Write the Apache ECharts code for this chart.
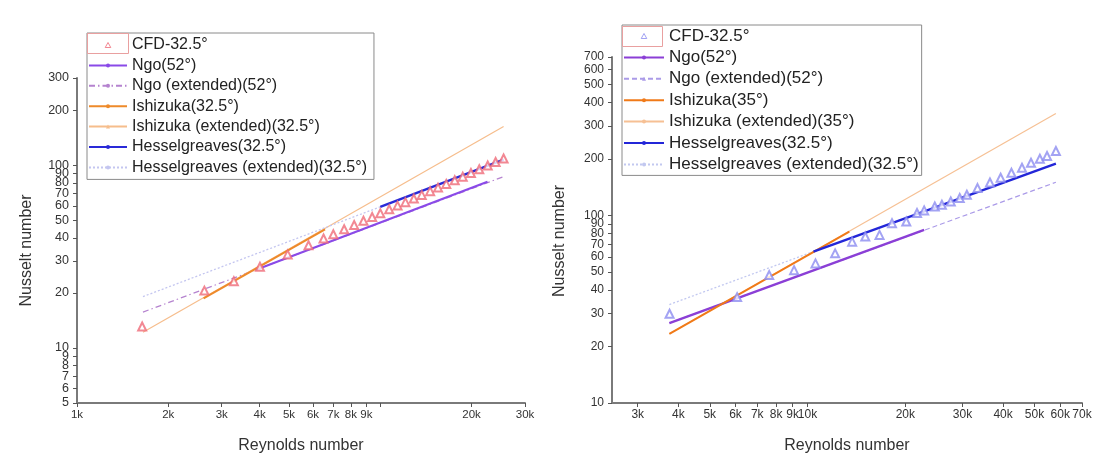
<!DOCTYPE html>
<html><head><meta charset="utf-8">
<script src="https://cdn.jsdelivr.net/npm/echarts@6/dist/echarts.min.js"></script>
<style>html,body{margin:0;padding:0;background:#fff}#c{width:1116px;height:463px}</style>
</head><body><div id="c"></div>
<script>
// ---------- tick values ----------
const leftXTicks  = [1000,2000,3000,4000,5000,6000,7000,8000,9000,10000,20000,30000];
const leftXLabels = [1000,2000,3000,4000,5000,6000,7000,8000,9000,20000,30000];
const leftYTicks  = [5,6,7,8,9,10,20,30,40,50,60,70,80,90,100,200,300];
const rightXTicks = [3000,4000,5000,6000,7000,8000,9000,10000,20000,30000,40000,50000,60000,70000];
const rightYTicks = [10,20,30,40,50,60,70,80,90,100,200,300,400,500,600,700];
const leftXRange  = [1000, 30000];
const leftYRange  = [5, 300];
const rightXRange = [2500, 70000];
const rightYRange = [10, 700];

// ---------- left panel data ----------
const leftCfdRe = [1640,2630,3290,4010,4950,5800,6500,7000,7600,8200,8800,9400,10000,10700,11400,12100,12900,13700,14600,15500,16500,17600,18700,19900,21200,22600,24000,25500];
const leftCfdNu = [13.1,20.6,23.2,27.8,32.5,36.5,39.7,41.9,44.6,47.1,49.7,52.1,54.6,57.4,60.1,62.8,65.8,68.8,72.1,75.4,79.0,82.8,86.6,90.7,95.0,99.6,104.1,108.9];
const leftNgoRe = [3875, 22570];      const leftNgoNu = [26.7, 81.1];
const leftNgoExtRe = [1650, 25500];   const leftNgoExtNu = [15.7, 86.6];
const leftIshRe = [2614, 6574];       const leftIshNu = [18.7, 44.5];
const leftIshExtRe = [1650, 25500];   const leftIshExtNu = [12.2, 163];
const leftHesRe = [10000, 25500];     const leftHesNu = [59.2, 107.4];
const leftHesExtRe = [1650, 10000];   const leftHesExtNu = [19.1, 59.2];

// ---------- right panel data ----------
const rightCfdRe = [3760,6070,7620,9090,10580,12160,13720,15060,16660,18200,20140,21730,22860,24650,25920,27610,29420,30940,33370,36450,39320,42440,45740,48760,51920,54630,58170];
const rightCfdNu = [29.9,36.7,48.1,51.1,55.5,62.8,72.5,77.2,78.8,91.0,92.9,103,106.4,111.7,114.1,118.9,124,129,140,150,158.8,168.9,179.7,191,200.8,207.4,220.6];
const rightNgoRe = [3755, 22860];     const rightNgoNu = [26.7, 83.8];
const rightNgoExtRe = [3755, 58170];  const rightNgoExtNu = [26.7, 150.3];
const rightIshRe = [3755, 13450];     const rightIshNu = [23.4, 82];
const rightIshExtRe = [3755, 58170];  const rightIshExtNu = [23.4, 350];
const rightHesRe = [10430, 58170];    const rightHesNu = [64.2, 188.8];
const rightHesExtRe = [3755, 10430];  const rightHesExtNu = [33.5, 64.2];

// ---------- helpers ----------
const L = Math.log10;
const pts = (xs, ys) => xs.map((x, i) => [L(x), L(ys[i])]);
const fmt = v => { const r = Math.round(Math.pow(10, v)); return r >= 1000 ? (r / 1000) + 'k' : String(r); };
const FONT = 'Liberation Sans, Arial, sans-serif';
const axisLineStyle = { lineStyle: { color: '#7a7a7a', width: 2 } };
const TRI = 'path://M5,0L10,9L0,9Z';

function xAxis(grid, range, ticks, labels, fs) {
  return {
    type: 'value', gridIndex: grid, min: L(range[0]), max: L(range[1]),
    name: 'Reynolds number', nameLocation: 'middle', nameGap: 35,
    nameTextStyle: { fontFamily: FONT, fontSize: 16, color: '#333' },
    axisLine: axisLineStyle, splitLine: { show: false },
    axisTick: { customValues: ticks.map(L), length: 4, lineStyle: { color: '#555', width: 1 } },
    axisLabel: { customValues: labels.map(L), formatter: fmt, margin: 6, fontFamily: FONT, fontSize: fs, color: '#333', hideOverlap: false }
  };
}
function yAxis(grid, range, ticks, fs, gap, pad) {
  return {
    type: 'value', gridIndex: grid, min: L(range[0]), max: L(range[1]),
    name: 'Nusselt number', nameLocation: 'middle', nameGap: gap, nameRotate: 90,
    nameTextStyle: { fontFamily: FONT, fontSize: 16, color: '#333', padding: [0, pad, 0, 0] },
    axisLine: axisLineStyle, splitLine: { show: false },
    axisTick: { customValues: ticks.map(L), length: 4, lineStyle: { color: '#555', width: 1 } },
    axisLabel: { customValues: ticks.map(L), formatter: fmt, margin: 8, fontFamily: FONT, fontSize: fs, color: '#333', hideOverlap: false }
  };
}
function line(name, gi, data, color, width, type, symbol, z) {
  return {
    name, type: 'line', xAxisIndex: gi, yAxisIndex: gi, data, showSymbol: false,
    symbol: symbol || 'none', symbolSize: 4, itemStyle: { color },
    lineStyle: { color, width, type: type || 'solid' }, z: z || 2, silent: true, animation: false
  };
}
function cfd(name, gi, data, color) {
  return {
    name, type: 'scatter', xAxisIndex: gi, yAxisIndex: gi, data, symbol: 'emptyTriangle', symbolSize: 8,
    itemStyle: { color, borderColor: color, borderWidth: 1.2 }, z: 5, silent: true, animation: false
  };
}

const legendBase = {
  orient: 'vertical', borderColor: '#8a8a8a', borderWidth: 1, backgroundColor: '#fff',
  itemHeight: 5, itemGap: 3.4, selectedMode: false, z: 10
};

const option = {
  animation: false,
  grid: [
    { left: 77, top: 78, width: 448, height: 325, outerBoundsMode: 'none' },
    { left: 612, top: 57, width: 470, height: 346, outerBoundsMode: 'none' }
  ],
  xAxis: [ xAxis(0, leftXRange, leftXTicks, leftXLabels, 11.5), xAxis(1, rightXRange, rightXTicks, rightXTicks, 12) ],
  yAxis: [ yAxis(0, leftYRange, leftYTicks, 12.5, 42, 20), yAxis(1, rightYRange, rightYTicks, 12, 44, 22) ],
  legend: [
    Object.assign({}, legendBase, {
      left: 87, top: 33, padding: [3.5, 7, 3.5, 1], itemWidth: 38,
      textStyle: { fontFamily: FONT, fontSize: 16, color: '#222', lineHeight: 17 },
      data: [
        { name: 'CFD-32.5°', icon: TRI, itemStyle: { color: '#fff', borderColor: '#ef6a78', borderWidth: 1 } },
        'Ngo(52°)', 'Ngo (extended)(52°)', 'Ishizuka(32.5°)', 'Ishizuka (extended)(32.5°)', 'Hesselgreaves(32.5°)', 'Hesselgreaves (extended)(32.5°)']
    }),
    Object.assign({}, legendBase, {
      left: 622, top: 25, padding: [2, 3, 2, 1], itemWidth: 40,
      formatter: n => n.replace(/^R:/, ''),
      textStyle: { fontFamily: FONT, fontSize: 17, color: '#222', lineHeight: 18 },
      data: [
        { name: 'R:CFD-32.5°', icon: TRI, itemStyle: { color: '#fff', borderColor: '#8c8cf0', borderWidth: 1 } },
        'R:Ngo(52°)', 'R:Ngo (extended)(52°)', 'R:Ishizuka(35°)', 'R:Ishizuka (extended)(35°)', 'R:Hesselgreaves(32.5°)', 'R:Hesselgreaves (extended)(32.5°)']
    })
  ],
  graphic: [
    { type: 'rect', shape: { x: 87.5, y: 33.5, width: 41, height: 20 }, style: { fill: 'none', stroke: '#e9a0a0', lineWidth: 1 }, z: 100 },
    { type: 'rect', shape: { x: 622.5, y: 26.5, width: 40, height: 20 }, style: { fill: 'none', stroke: '#e9a0a0', lineWidth: 1 }, z: 100 }
  ],
  series: [
    // left
    line('Ngo (extended)(52°)', 0, pts(leftNgoExtRe, leftNgoExtNu), '#b583cf', 1.2, [6, 3, 1.5, 3], 'circle', 1),
    line('Ishizuka (extended)(32.5°)', 0, pts(leftIshExtRe, leftIshExtNu), '#f6bd8c', 1.2, 'solid', 'triangle', 1),
    line('Hesselgreaves (extended)(32.5°)', 0, pts(leftHesExtRe, leftHesExtNu), '#c4c6f0', 1.3, [2, 2], 'circle', 1),
    line('Ngo(52°)', 0, pts(leftNgoRe, leftNgoNu), '#8a4ae8', 2.2, 'solid', null, 3),
    line('Ishizuka(32.5°)', 0, pts(leftIshRe, leftIshNu), '#ee8a2a', 2, 'solid', null, 3),
    line('Hesselgreaves(32.5°)', 0, pts(leftHesRe, leftHesNu), '#2a2ad8', 2.4, 'solid', null, 3),
    cfd('CFD-32.5°', 0, pts(leftCfdRe, leftCfdNu), '#ef6a78'),
    // right
    line('R:Ngo (extended)(52°)', 1, pts(rightNgoExtRe, rightNgoExtNu), '#ab9be8', 1.2, [5, 3], 'triangle', 1),
    line('R:Ishizuka (extended)(35°)', 1, pts(rightIshExtRe, rightIshExtNu), '#f6c094', 1.2, 'solid', 'circle', 1),
    line('R:Hesselgreaves (extended)(32.5°)', 1, pts(rightHesExtRe, rightHesExtNu), '#c2c8f0', 1.3, [2, 2], 'circle', 1),
    line('R:Ngo(52°)', 1, pts(rightNgoRe, rightNgoNu), '#8b3fd6', 2.4, 'solid', null, 3),
    line('R:Ishizuka(35°)', 1, pts(rightIshRe, rightIshNu), '#f07a18', 2, 'solid', null, 3),
    line('R:Hesselgreaves(32.5°)', 1, pts(rightHesRe, rightHesNu), '#2326d8', 2.4, 'solid', null, 3),
    cfd('R:CFD-32.5°', 1, pts(rightCfdRe, rightCfdNu), '#8c8cf0')
  ]
};
const chart = echarts.init(document.getElementById('c'), null, { renderer: 'canvas' });
chart.setOption(option);
</script></body></html>
